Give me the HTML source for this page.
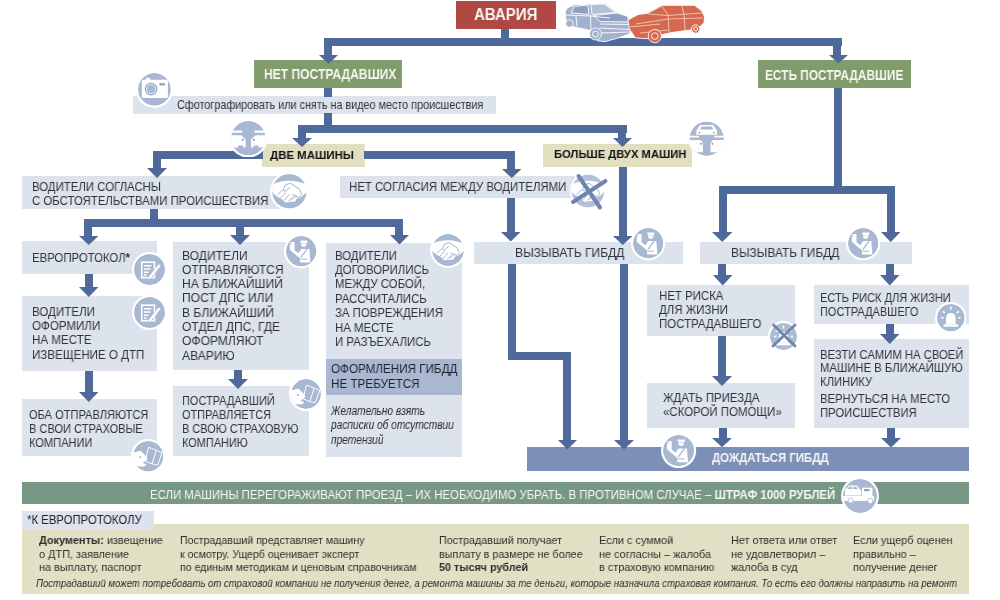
<!DOCTYPE html>
<html><head><meta charset="utf-8"><style>
html,body{margin:0;padding:0;background:#fff;}
body{width:1000px;height:600px;position:relative;overflow:hidden;font-family:"Liberation Sans",sans-serif;}
.r{position:absolute;display:block;}
.t{position:absolute;white-space:nowrap;line-height:1;transform-origin:0 0;will-change:transform;}
.t sup{font-size:0.7em;vertical-align:0;position:relative;top:-0.35em;line-height:0;}
</style></head><body>
<div class="r" style="left:456px;top:1px;width:100px;height:28px;background:#b04844;"></div>
<div class="r" style="left:254px;top:60px;width:148px;height:28px;background:#7f9c6a;"></div>
<div class="r" style="left:758px;top:60px;width:153px;height:28px;background:#7f9c6a;"></div>
<div class="r" style="left:133px;top:96px;width:363px;height:18px;background:#dde3ed;"></div>
<div class="r" style="left:262px;top:144px;width:102.5px;height:22.5px;background:#e1dfc2;"></div>
<div class="r" style="left:543px;top:144px;width:149px;height:22.5px;background:#e1dfc2;"></div>
<div class="r" style="left:22px;top:176px;width:258px;height:33px;background:#dde3ed;"></div>
<div class="r" style="left:340px;top:176px;width:235px;height:22px;background:#dde3ed;"></div>
<div class="r" style="left:22px;top:241px;width:135px;height:33px;background:#dde3ed;"></div>
<div class="r" style="left:22px;top:296px;width:135px;height:75px;background:#dde3ed;"></div>
<div class="r" style="left:22px;top:399px;width:135px;height:57px;background:#dde3ed;"></div>
<div class="r" style="left:172.5px;top:242px;width:136.5px;height:127.5px;background:#dde3ed;"></div>
<div class="r" style="left:173px;top:386px;width:135.5px;height:70px;background:#dde3ed;"></div>
<div class="r" style="left:326px;top:242.5px;width:136px;height:214.5px;background:#dde3ed;"></div>
<div class="r" style="left:326px;top:359px;width:136px;height:35.6px;background:#a9b8d0;"></div>
<div class="r" style="left:474px;top:242px;width:208.5px;height:22px;background:#dde3ed;"></div>
<div class="r" style="left:700px;top:242px;width:212px;height:22px;background:#dde3ed;"></div>
<div class="r" style="left:647px;top:285px;width:147.5px;height:51px;background:#dde3ed;"></div>
<div class="r" style="left:813.5px;top:285px;width:155.5px;height:38.6px;background:#dde3ed;"></div>
<div class="r" style="left:813.5px;top:339px;width:155.5px;height:88.6px;background:#dde3ed;"></div>
<div class="r" style="left:646.5px;top:382.5px;width:148.1px;height:45.1px;background:#dde3ed;"></div>
<div class="r" style="left:527px;top:447px;width:442px;height:23.5px;background:#7c90b7;"></div>
<div class="r" style="left:22px;top:482px;width:946.5px;height:22px;background:#789886;"></div>
<div class="r" style="left:22px;top:524px;width:946.5px;height:70px;background:#e2e0c4;"></div>
<div class="r" style="left:22px;top:511px;width:131.5px;height:18.5px;background:#dce2ee;"></div>
<div class="r" style="left:501px;top:29px;width:8px;height:10px;background:#4f6a9a;"></div>
<div class="r" style="left:324px;top:38px;width:518px;height:8px;background:#4f6a9a;"></div>
<div class="r" style="left:324px;top:45px;width:8px;height:11px;background:#4f6a9a;"></div>
<svg class="r" style="left:319px;top:55px" width="19" height="9" viewBox="0 0 19 9"><polygon points="0,0 19,0 9.5,9" fill="#4f6a9a"/></svg>
<div class="r" style="left:833px;top:45px;width:8px;height:11px;background:#4f6a9a;"></div>
<svg class="r" style="left:828.5px;top:54.5px" width="19.0" height="8.5" viewBox="0 0 19.0 8.5"><polygon points="0,0 19.0,0 9.5,8.5" fill="#4f6a9a"/></svg>
<div class="r" style="left:324px;top:88px;width:8px;height:9px;background:#4f6a9a;"></div>
<div class="r" style="left:324px;top:113px;width:8px;height:13px;background:#4f6a9a;"></div>
<div class="r" style="left:298px;top:125px;width:329px;height:8px;background:#4f6a9a;"></div>
<div class="r" style="left:298px;top:132px;width:8px;height:7px;background:#4f6a9a;"></div>
<svg class="r" style="left:292px;top:138px" width="20" height="9" viewBox="0 0 20 9"><polygon points="0,0 20,0 10.0,9" fill="#4f6a9a"/></svg>
<div class="r" style="left:618px;top:132px;width:8px;height:7px;background:#4f6a9a;"></div>
<svg class="r" style="left:613px;top:138px" width="19" height="9" viewBox="0 0 19 9"><polygon points="0,0 19,0 9.5,9" fill="#4f6a9a"/></svg>
<div class="r" style="left:153px;top:151px;width:109.5px;height:8px;background:#4f6a9a;"></div>
<div class="r" style="left:153px;top:158px;width:8px;height:11px;background:#4f6a9a;"></div>
<svg class="r" style="left:147px;top:168px" width="20" height="10" viewBox="0 0 20 10"><polygon points="0,0 20,0 10.0,10" fill="#4f6a9a"/></svg>
<div class="r" style="left:364px;top:151px;width:151px;height:8px;background:#4f6a9a;"></div>
<div class="r" style="left:507px;top:158px;width:8px;height:12px;background:#4f6a9a;"></div>
<svg class="r" style="left:501.5px;top:169px" width="19.5" height="9" viewBox="0 0 19.5 9"><polygon points="0,0 19.5,0 9.75,9" fill="#4f6a9a"/></svg>
<div class="r" style="left:150px;top:209px;width:8px;height:11px;background:#4f6a9a;"></div>
<div class="r" style="left:84px;top:219px;width:319px;height:8px;background:#4f6a9a;"></div>
<div class="r" style="left:84px;top:226px;width:8px;height:11px;background:#4f6a9a;"></div>
<svg class="r" style="left:78.5px;top:236px" width="19.5" height="9" viewBox="0 0 19.5 9"><polygon points="0,0 19.5,0 9.75,9" fill="#4f6a9a"/></svg>
<div class="r" style="left:236px;top:226px;width:8px;height:10px;background:#4f6a9a;"></div>
<svg class="r" style="left:230px;top:235px" width="20" height="10" viewBox="0 0 20 10"><polygon points="0,0 20,0 10.0,10" fill="#4f6a9a"/></svg>
<div class="r" style="left:395px;top:226px;width:8px;height:10px;background:#4f6a9a;"></div>
<svg class="r" style="left:389.5px;top:235px" width="19.0" height="9.5" viewBox="0 0 19.0 9.5"><polygon points="0,0 19.0,0 9.5,9.5" fill="#4f6a9a"/></svg>
<div class="r" style="left:85px;top:274px;width:8px;height:14px;background:#4f6a9a;"></div>
<svg class="r" style="left:79px;top:287px" width="19.5" height="10" viewBox="0 0 19.5 10"><polygon points="0,0 19.5,0 9.75,10" fill="#4f6a9a"/></svg>
<div class="r" style="left:85px;top:371px;width:8px;height:22px;background:#4f6a9a;"></div>
<svg class="r" style="left:79px;top:392px" width="19.5" height="10" viewBox="0 0 19.5 10"><polygon points="0,0 19.5,0 9.75,10" fill="#4f6a9a"/></svg>
<div class="r" style="left:234px;top:369.5px;width:8px;height:10.5px;background:#4f6a9a;"></div>
<svg class="r" style="left:227.5px;top:379px" width="20.0" height="10" viewBox="0 0 20.0 10"><polygon points="0,0 20.0,0 10.0,10" fill="#4f6a9a"/></svg>
<div class="r" style="left:507px;top:198px;width:8px;height:35px;background:#4f6a9a;"></div>
<svg class="r" style="left:501px;top:232px" width="19.5" height="9.5" viewBox="0 0 19.5 9.5"><polygon points="0,0 19.5,0 9.75,9.5" fill="#4f6a9a"/></svg>
<div class="r" style="left:619px;top:166.5px;width:8px;height:70.5px;background:#4f6a9a;"></div>
<svg class="r" style="left:613px;top:236px" width="19.5" height="9" viewBox="0 0 19.5 9"><polygon points="0,0 19.5,0 9.75,9" fill="#4f6a9a"/></svg>
<div class="r" style="left:508px;top:264px;width:8px;height:96px;background:#4f6a9a;"></div>
<div class="r" style="left:508px;top:351.5px;width:63px;height:8.0px;background:#4f6a9a;"></div>
<div class="r" style="left:563px;top:351.5px;width:8px;height:89.5px;background:#4f6a9a;"></div>
<svg class="r" style="left:558px;top:440px" width="19" height="9.5" viewBox="0 0 19 9.5"><polygon points="0,0 19,0 9.5,9.5" fill="#4f6a9a"/></svg>
<div class="r" style="left:619.5px;top:264px;width:8.0px;height:177px;background:#4f6a9a;"></div>
<svg class="r" style="left:613.5px;top:440px" width="20.0" height="9.5" viewBox="0 0 20.0 9.5"><polygon points="0,0 20.0,0 10.0,9.5" fill="#4f6a9a"/></svg>
<div class="r" style="left:834px;top:88px;width:8px;height:106px;background:#4f6a9a;"></div>
<div class="r" style="left:718.5px;top:186px;width:176.5px;height:8px;background:#4f6a9a;"></div>
<div class="r" style="left:718.5px;top:193px;width:8.0px;height:40px;background:#4f6a9a;"></div>
<svg class="r" style="left:712px;top:232px" width="20.5" height="10" viewBox="0 0 20.5 10"><polygon points="0,0 20.5,0 10.25,10" fill="#4f6a9a"/></svg>
<div class="r" style="left:887px;top:193px;width:8px;height:40px;background:#4f6a9a;"></div>
<svg class="r" style="left:881px;top:232px" width="19.5" height="10" viewBox="0 0 19.5 10"><polygon points="0,0 19.5,0 9.75,10" fill="#4f6a9a"/></svg>
<div class="r" style="left:718px;top:264px;width:8px;height:12px;background:#4f6a9a;"></div>
<svg class="r" style="left:712.5px;top:275px" width="19.5" height="10.5" viewBox="0 0 19.5 10.5"><polygon points="0,0 19.5,0 9.75,10.5" fill="#4f6a9a"/></svg>
<div class="r" style="left:886px;top:264px;width:8px;height:12px;background:#4f6a9a;"></div>
<svg class="r" style="left:880px;top:275px" width="19.5" height="10.5" viewBox="0 0 19.5 10.5"><polygon points="0,0 19.5,0 9.75,10.5" fill="#4f6a9a"/></svg>
<div class="r" style="left:718px;top:336px;width:8px;height:41px;background:#4f6a9a;"></div>
<svg class="r" style="left:712px;top:376px" width="20" height="10" viewBox="0 0 20 10"><polygon points="0,0 20,0 10.0,10" fill="#4f6a9a"/></svg>
<div class="r" style="left:718.5px;top:427.6px;width:8.0px;height:11.4px;background:#4f6a9a;"></div>
<svg class="r" style="left:712px;top:437.8px" width="20" height="9.199999999999989" viewBox="0 0 20 9.199999999999989"><polygon points="0,0 20,0 10.0,9.199999999999989" fill="#4f6a9a"/></svg>
<div class="r" style="left:886px;top:323.6px;width:8px;height:11.4px;background:#4f6a9a;"></div>
<svg class="r" style="left:880px;top:334px" width="19.5" height="10" viewBox="0 0 19.5 10"><polygon points="0,0 19.5,0 9.75,10" fill="#4f6a9a"/></svg>
<div class="r" style="left:887px;top:427.6px;width:8px;height:11.4px;background:#4f6a9a;"></div>
<svg class="r" style="left:880.5px;top:438px" width="20.0" height="9.5" viewBox="0 0 20.0 9.5"><polygon points="0,0 20.0,0 10.0,9.5" fill="#4f6a9a"/></svg>
<svg class="r" style="left:135.8px;top:71.3px" width="36.8" height="36.8" viewBox="-19.073170731707318 -19.073170731707318 38.146341463414636 38.146341463414636"><defs><clipPath id="c154_89"><circle r="17"/></clipPath></defs><circle cx="0" cy="0" r="19.073170731707318" fill="#fff"/><g clip-path="url(#c154_89)"><circle cx="0" cy="0" r="17" fill="#a8b8d2"/><rect x="-8.7" y="-12" width="4.2" height="3" fill="#fff"/><rect x="-13" y="-10" width="27" height="19" rx="1.5" fill="#fff"/><circle cx="-3.4" cy="-0.4" r="6" fill="none" stroke="#8e9fbd" stroke-width="1.2"/><circle cx="-3.4" cy="-0.4" r="4.6" fill="#a8b8d2"/><rect x="5.3" y="-6.5" width="5.7" height="2.4" fill="#8e9fbd"/></g></svg>
<svg class="r" style="left:229.2px;top:118.5px" width="38.6" height="38.6" viewBox="-18.965317919075147 -18.965317919075147 37.930635838150295 37.930635838150295"><defs><clipPath id="c248_137"><circle r="17"/></clipPath></defs><circle cx="0" cy="0" r="18.965317919075147" fill="#fff"/><g clip-path="url(#c248_137)"><circle cx="0" cy="0" r="17" fill="#a8b8d2"/><path d="M-20,-7.6 H-6 V-5.4 H-20z M20,-7.6 H6 V-5.4 H20z" fill="#fff"/><path d="M-20,-3 H-7 L-4,0 L-2.6,1 V9 H-5 V7 H-10 V9 H-20z" fill="#fff"/><path d="M20,-3 H7 L4,0 L2.6,1 V9 H5 V7 H10 V9 H20z" fill="#fff"/><circle cx="-5.5" cy="1.5" r="1.1" fill="#8e9fbd"/><circle cx="5.5" cy="1.5" r="1.1" fill="#8e9fbd"/></g></svg>
<svg class="r" style="left:270.2px;top:171.9px" width="38.6" height="38.6" viewBox="-18.965317919075147 -18.965317919075147 37.930635838150295 37.930635838150295"><defs><clipPath id="c289_191"><circle r="17"/></clipPath></defs><circle cx="0" cy="0" r="18.965317919075147" fill="#fff"/><g clip-path="url(#c289_191)"><circle cx="0" cy="0" r="17" fill="#a8b8d2"/><path d="M-20,-5.1 A40,40 0 0 1 20,-5.1 L20,-3.8 A22.3,22.3 0 0 1 -20,-3.8 Z" fill="#fff"/><path d="M-9,6 L-2,0 L8,2 L6,10 L-4,11z" fill="#fff"/><path d="M-4,-6 L1,-8 L10,-2 L12,3 L9,6 L3,3 M-4,-6 L-6,-1 L-4,0 L1,-4 M-12,4 L-7,-1 M-9,7 L-3,1 M-5,9 L0,3 M-1,10 L4,5 M2,9 L7,4" fill="none" stroke="#8e9fbd" stroke-width="0.8"/></g></svg>
<svg class="r" style="left:570.0px;top:173.0px" width="36.0" height="36.0" viewBox="-18.545454545454547 -18.545454545454547 37.09090909090909 37.09090909090909"><defs><clipPath id="c588_191"><circle r="17"/></clipPath></defs><circle cx="0" cy="0" r="18.545454545454547" fill="#fff"/><g clip-path="url(#c588_191)"><circle cx="0" cy="0" r="17" fill="#b3c0d7"/><path d="M-20,-5.1 A40,40 0 0 1 20,-5.1 L20,-3.8 A22.3,22.3 0 0 1 -20,-3.8 Z" fill="#fff"/><path d="M-9,6 L-2,0 L8,2 L6,10 L-4,11z" fill="#fff"/><path d="M-4,-6 L1,-8 L10,-2 L12,3 L9,6 L3,3 M-4,-6 L-6,-1 L-4,0 L1,-4 M-12,4 L-7,-1 M-9,7 L-3,1 M-5,9 L0,3 M-1,10 L4,5 M2,9 L7,4" fill="none" stroke="#8e9fbd" stroke-width="0.8"/></g></svg>
<svg class="r" style="left:568.5px;top:172px" width="40.5" height="39.5" viewBox="568.5 172 40.5 39.5"><path d="M578,176 L599.5,207.5 M605,181 L572.5,202" stroke="#6f85ae" stroke-width="4" stroke-linecap="round"/></svg>
<svg class="r" style="left:688.3px;top:119.8px" width="37.4" height="37.4" viewBox="-18.482558139534884 -18.482558139534884 36.96511627906977 36.96511627906977"><defs><clipPath id="c707_138"><circle r="17"/></clipPath></defs><circle cx="0" cy="0" r="18.482558139534884" fill="#fff"/><g clip-path="url(#c707_138)"><circle cx="0" cy="0" r="17" fill="#a8b8d2"/><path d="M-6.5,-13.6 H6.5 L10.2,-8 V-4 H-10.2 V-8 Z" fill="#fff"/><path d="M-5,-12 H5 L6.5,-9 H-6.5 Z" fill="#a8b8d2"/><path d="M-20,-3 H-7.5 V-1.2 H-20z M20,-3 H7.5 V-1.2 H20z" fill="#fff"/><path d="M-20,1.2 H-6 L-3.8,4 V13.5 H-20 Z M20,1.2 H6 L3.8,4 V13.5 H20 Z" fill="#fff"/><circle cx="-7.2" cy="-5.8" r="0.8" fill="#c66"/><circle cx="7.2" cy="-5.8" r="0.8" fill="#c66"/><circle cx="-5.6" cy="5" r="0.9" fill="#c77"/><circle cx="5.6" cy="5" r="0.9" fill="#c77"/></g></svg>
<svg class="r" style="left:131.8px;top:251.7px" width="35.0" height="35.0" viewBox="-19.193548387096776 -19.193548387096776 38.38709677419355 38.38709677419355"><defs><clipPath id="c149_269"><circle r="17"/></clipPath></defs><circle cx="0" cy="0" r="19.193548387096776" fill="#fff"/><g clip-path="url(#c149_269)"><circle cx="0" cy="0" r="17" fill="#a8b8d2"/><rect x="-8.5" y="-8" width="14" height="17" fill="none" stroke="#fff" stroke-width="1.8"/><path d="M-6,-4 h8 M-6,-0.5 h7 M-6,3 h5 M-6,6 h3" stroke="#fff" stroke-width="1.6"/><path d="M-1,8 l11,-14 l2.5,2 l-11,14 l-3,1z" fill="#fff" stroke="#a8b8d2" stroke-width="0.6"/></g></svg>
<svg class="r" style="left:132.0px;top:295.0px" width="35.0" height="35.0" viewBox="-19.193548387096776 -19.193548387096776 38.38709677419355 38.38709677419355"><defs><clipPath id="c149_312"><circle r="17"/></clipPath></defs><circle cx="0" cy="0" r="19.193548387096776" fill="#fff"/><g clip-path="url(#c149_312)"><circle cx="0" cy="0" r="17" fill="#a8b8d2"/><rect x="-8.5" y="-8" width="14" height="17" fill="none" stroke="#fff" stroke-width="1.8"/><path d="M-6,-4 h8 M-6,-0.5 h7 M-6,3 h5 M-6,6 h3" stroke="#fff" stroke-width="1.6"/><path d="M-1,8 l11,-14 l2.5,2 l-11,14 l-3,1z" fill="#fff" stroke="#a8b8d2" stroke-width="0.6"/></g></svg>
<svg class="r" style="left:130.8px;top:438.5px" width="34.4" height="34.4" viewBox="-19.236842105263158 -19.236842105263158 38.473684210526315 38.473684210526315"><defs><clipPath id="c148_455"><circle r="17"/></clipPath></defs><circle cx="0" cy="0" r="19.236842105263158" fill="#fff"/><g clip-path="url(#c148_455)"><circle cx="0" cy="0" r="17" fill="#a8b8d2"/><path d="M0.6,-10 L9.3,-6.6 L4.3,8.5 L-3.6,5.4z M9.3,-6.6 L15.5,-4 L10.5,10 L4.3,8.5" fill="none" stroke="#fff" stroke-width="1.1" stroke-linejoin="round"/><path d="M-20,-4 L-16.8,-4 L-8.5,-6.2 L-1.7,0.6 L-0.9,3.6 L-6.2,7.4 L-1.7,9.6 L-5.4,11.9 L-11.6,11.2 L-20,11.2z" fill="#fff"/><circle cx="-9" cy="1" r="1" fill="#8e9fbd"/></g></svg>
<svg class="r" style="left:283.8px;top:234.3px" width="34.4" height="34.4" viewBox="-19.236842105263158 -19.236842105263158 38.473684210526315 38.473684210526315"><defs><clipPath id="c301_251"><circle r="17"/></clipPath></defs><circle cx="0" cy="0" r="19.236842105263158" fill="#fff"/><g clip-path="url(#c301_251)"><circle cx="0" cy="0" r="17" fill="#a8b8d2"/><path d="M-1,-12 H7 L6.4,-8.7 H-0.4z" fill="#fff"/><path d="M0,-8.2 H5.6 V-6 Q2.8,-3.6 0,-6z" fill="#fff"/><rect x="-12.7" y="-10.3" width="5.2" height="9" fill="#fff"/><path d="M-11.5,-10 v3" stroke="#8e9fbd" stroke-width="0.7"/><path d="M-12.7,-1.5 L-8,-1.5 L-3.3,2.2 L0,-2.4 H9.1 L10.3,12.7 H-1.2 V8 L-4,6 Z" fill="#fff"/><path d="M6.5,-2.4 L-0.5,7.2" stroke="#a8b8d2" stroke-width="1.4"/><path d="M-0.5,9 H6.5" stroke="#8e9fbd" stroke-width="0.8"/></g></svg>
<svg class="r" style="left:288.5px;top:376.8px" width="34.0" height="34.0" viewBox="-19.266666666666666 -19.266666666666666 38.53333333333333 38.53333333333333"><defs><clipPath id="c305_393"><circle r="17"/></clipPath></defs><circle cx="0" cy="0" r="19.266666666666666" fill="#fff"/><g clip-path="url(#c305_393)"><circle cx="0" cy="0" r="17" fill="#a8b8d2"/><path d="M0.6,-10 L9.3,-6.6 L4.3,8.5 L-3.6,5.4z M9.3,-6.6 L15.5,-4 L10.5,10 L4.3,8.5" fill="none" stroke="#fff" stroke-width="1.1" stroke-linejoin="round"/><path d="M-20,-4 L-16.8,-4 L-8.5,-6.2 L-1.7,0.6 L-0.9,3.6 L-6.2,7.4 L-1.7,9.6 L-5.4,11.9 L-11.6,11.2 L-20,11.2z" fill="#fff"/><circle cx="-9" cy="1" r="1" fill="#8e9fbd"/></g></svg>
<svg class="r" style="left:429.5px;top:232.0px" width="36.0" height="36.0" viewBox="-19.125 -19.125 38.25 38.25"><defs><clipPath id="c447_250"><circle r="17"/></clipPath></defs><circle cx="0" cy="0" r="19.125" fill="#fff"/><g clip-path="url(#c447_250)"><circle cx="0" cy="0" r="17" fill="#a8b8d2"/><path d="M-20,-5.1 A40,40 0 0 1 20,-5.1 L20,-3.8 A22.3,22.3 0 0 1 -20,-3.8 Z" fill="#fff"/><path d="M-9,6 L-2,0 L8,2 L6,10 L-4,11z" fill="#fff"/><path d="M-4,-6 L1,-8 L10,-2 L12,3 L9,6 L3,3 M-4,-6 L-6,-1 L-4,0 L1,-4 M-12,4 L-7,-1 M-9,7 L-3,1 M-5,9 L0,3 M-1,10 L4,5 M2,9 L7,4" fill="none" stroke="#8e9fbd" stroke-width="0.8"/></g></svg>
<svg class="r" style="left:631.0px;top:226.3px" width="34.4" height="34.4" viewBox="-19.236842105263158 -19.236842105263158 38.473684210526315 38.473684210526315"><defs><clipPath id="c648_243"><circle r="17"/></clipPath></defs><circle cx="0" cy="0" r="19.236842105263158" fill="#fff"/><g clip-path="url(#c648_243)"><circle cx="0" cy="0" r="17" fill="#a8b8d2"/><path d="M-1,-12 H7 L6.4,-8.7 H-0.4z" fill="#fff"/><path d="M0,-8.2 H5.6 V-6 Q2.8,-3.6 0,-6z" fill="#fff"/><rect x="-12.7" y="-10.3" width="5.2" height="9" fill="#fff"/><path d="M-11.5,-10 v3" stroke="#8e9fbd" stroke-width="0.7"/><path d="M-12.7,-1.5 L-8,-1.5 L-3.3,2.2 L0,-2.4 H9.1 L10.3,12.7 H-1.2 V8 L-4,6 Z" fill="#fff"/><path d="M6.5,-2.4 L-0.5,7.2" stroke="#a8b8d2" stroke-width="1.4"/><path d="M-0.5,9 H6.5" stroke="#8e9fbd" stroke-width="0.8"/></g></svg>
<svg class="r" style="left:845.8px;top:226.4px" width="34.4" height="34.4" viewBox="-19.236842105263158 -19.236842105263158 38.473684210526315 38.473684210526315"><defs><clipPath id="c863_243"><circle r="17"/></clipPath></defs><circle cx="0" cy="0" r="19.236842105263158" fill="#fff"/><g clip-path="url(#c863_243)"><circle cx="0" cy="0" r="17" fill="#a8b8d2"/><path d="M-1,-12 H7 L6.4,-8.7 H-0.4z" fill="#fff"/><path d="M0,-8.2 H5.6 V-6 Q2.8,-3.6 0,-6z" fill="#fff"/><rect x="-12.7" y="-10.3" width="5.2" height="9" fill="#fff"/><path d="M-11.5,-10 v3" stroke="#8e9fbd" stroke-width="0.7"/><path d="M-12.7,-1.5 L-8,-1.5 L-3.3,2.2 L0,-2.4 H9.1 L10.3,12.7 H-1.2 V8 L-4,6 Z" fill="#fff"/><path d="M6.5,-2.4 L-0.5,7.2" stroke="#a8b8d2" stroke-width="1.4"/><path d="M-0.5,9 H6.5" stroke="#8e9fbd" stroke-width="0.8"/></g></svg>
<svg class="r" style="left:768.0px;top:320.5px" width="31.0" height="31.0" viewBox="-19.51851851851852 -19.51851851851852 39.03703703703704 39.03703703703704"><defs><clipPath id="c783_336"><circle r="17"/></clipPath></defs><circle cx="0" cy="0" r="19.51851851851852" fill="#fff"/><g clip-path="url(#c783_336)"><circle cx="0" cy="0" r="17" fill="#adbbd4"/><path d="M-6,8 v-7 q0,-7 6,-7 q6,0 6,7 v7z" fill="#fff"/><rect x="-9" y="8" width="18" height="3" fill="#fff"/><path d="M0,-14 v4 M-10,-8 l3,2 M10,-8 l-3,2 M-12,0 h3 M12,0 h-3" stroke="#fff" stroke-width="1.8"/></g></svg>
<svg class="r" style="left:769px;top:321px" width="30" height="29" viewBox="769 321 30 29"><path d="M773.5,325 L795,346 M795,325 L773,346" stroke="#6f85ae" stroke-width="2.8" stroke-linecap="round"/></svg>
<svg class="r" style="left:934.7px;top:302.2px" width="31.6" height="31.6" viewBox="-19.46376811594203 -19.46376811594203 38.92753623188406 38.92753623188406"><defs><clipPath id="c950_318"><circle r="17"/></clipPath></defs><circle cx="0" cy="0" r="19.46376811594203" fill="#fff"/><g clip-path="url(#c950_318)"><circle cx="0" cy="0" r="17" fill="#a8b8d2"/><path d="M-6,8 v-7 q0,-7 6,-7 q6,0 6,7 v7z" fill="#fff"/><rect x="-9" y="8" width="18" height="3" fill="#fff"/><path d="M0,-14 v4 M-10,-8 l3,2 M10,-8 l-3,2 M-12,0 h3 M12,0 h-3" stroke="#fff" stroke-width="1.8"/></g></svg>
<svg class="r" style="left:661.4px;top:432.9px" width="35.2" height="35.2" viewBox="-19.179487179487182 -19.179487179487182 38.358974358974365 38.358974358974365"><defs><clipPath id="c679_450"><circle r="17"/></clipPath></defs><circle cx="0" cy="0" r="19.179487179487182" fill="#fff"/><g clip-path="url(#c679_450)"><circle cx="0" cy="0" r="17" fill="#a8b8d2"/><path d="M-1,-12 H7 L6.4,-8.7 H-0.4z" fill="#fff"/><path d="M0,-8.2 H5.6 V-6 Q2.8,-3.6 0,-6z" fill="#fff"/><rect x="-12.7" y="-10.3" width="5.2" height="9" fill="#fff"/><path d="M-11.5,-10 v3" stroke="#8e9fbd" stroke-width="0.7"/><path d="M-12.7,-1.5 L-8,-1.5 L-3.3,2.2 L0,-2.4 H9.1 L10.3,12.7 H-1.2 V8 L-4,6 Z" fill="#fff"/><path d="M6.5,-2.4 L-0.5,7.2" stroke="#a8b8d2" stroke-width="1.4"/><path d="M-0.5,9 H6.5" stroke="#8e9fbd" stroke-width="0.8"/></g></svg>
<svg class="r" style="left:841.0px;top:476.6px" width="38.0" height="38.0" viewBox="-19.0 -19.0 38.0 38.0"><defs><clipPath id="c860_495"><circle r="17"/></clipPath></defs><circle cx="0" cy="0" r="19.0" fill="#fff"/><g clip-path="url(#c860_495)"><circle cx="0" cy="0" r="17" fill="#a8b8d2"/><path d="M-15,-0.5 V-6 Q-15,-7.5 -13,-8 L-11,-10.5 H-3 L0,-6.5 Q1.5,-6 1.5,-4 V-0.5z" fill="#fff"/><path d="M-12.5,-7 L-11,-9.3 H-8 V-7z M-6.8,-7 V-9.3 H-3.6 L-2,-7z" fill="#a8b8d2"/><rect x="2" y="-8.3" width="10.5" height="8.5" fill="#fff"/><rect x="4" y="-6.9" width="5.6" height="2.1" fill="#8e9fbd"/><rect x="-17" y="0" width="31" height="5" fill="#fff"/><circle cx="-9.3" cy="4.5" r="2.6" fill="#fff" stroke="#a8b8d2" stroke-width="0.8"/><circle cx="10.3" cy="5" r="2.6" fill="#fff" stroke="#a8b8d2" stroke-width="0.8"/></g></svg>
<div class="t" style="left:474.3px;top:6.96px;font-size:16px;color:#f7f7f2;font-weight:bold;transform:scaleX(0.9387);">АВАРИЯ</div>
<div class="t" style="left:264.3px;top:67.23px;font-size:14.3px;color:#f7f7f2;font-weight:bold;transform:scaleX(0.8441);">НЕТ ПОСТРАДАВШИХ</div>
<div class="t" style="left:764.9px;top:68.28px;font-size:14px;color:#f7f7f2;font-weight:bold;transform:scaleX(0.8477);">ЕСТЬ ПОСТРАДАВШИЕ</div>
<div class="t" style="left:177.3px;top:99.0px;font-size:12.6px;color:#333;transform:scaleX(0.8584);">Сфотографировать или снять на видео место происшествия</div>
<div class="t" style="left:270.3px;top:149.63px;font-size:11.8px;color:#111;font-weight:bold;transform:scaleX(0.9673);">ДВЕ МАШИНЫ</div>
<div class="t" style="left:553.6999999999999px;top:149.23px;font-size:11.8px;color:#111;font-weight:bold;transform:scaleX(0.9504);">БОЛЬШЕ ДВУХ МАШИН</div>
<div class="t" style="left:32.3px;top:180.55px;font-size:12.3px;color:#30333a;transform:scaleX(0.9272);">ВОДИТЕЛИ СОГЛАСНЫ</div>
<div class="t" style="left:32.3px;top:194.55px;font-size:12.3px;color:#30333a;transform:scaleX(0.9272);">С ОБСТОЯТЕЛЬСТВАМИ ПРОИСШЕСТВИЯ</div>
<div class="t" style="left:349.3px;top:180.95px;font-size:12.3px;color:#30333a;transform:scaleX(0.9301);">НЕТ СОГЛАСИЯ МЕЖДУ ВОДИТЕЛЯМИ</div>
<div class="t" style="left:31.7px;top:252.15px;font-size:12.3px;color:#30333a;transform:scaleX(0.9237);">ЕВРОПРОТОКОЛ<b>*</b></div>
<div class="t" style="left:32.3px;top:305.55px;font-size:12.3px;color:#30333a;transform:scaleX(0.9412);">ВОДИТЕЛИ</div>
<div class="t" style="left:32.3px;top:320.0px;font-size:12.3px;color:#30333a;transform:scaleX(0.9412);">ОФОРМИЛИ</div>
<div class="t" style="left:32.3px;top:334.45px;font-size:12.3px;color:#30333a;transform:scaleX(0.9412);">НА МЕСТЕ</div>
<div class="t" style="left:32.3px;top:348.9px;font-size:12.3px;color:#30333a;transform:scaleX(0.9412);">ИЗВЕЩЕНИЕ О ДТП</div>
<div class="t" style="left:29.3px;top:408.55px;font-size:12.3px;color:#30333a;transform:scaleX(0.9009);">ОБА ОТПРАВЛЯЮТСЯ</div>
<div class="t" style="left:29.3px;top:422.55px;font-size:12.3px;color:#30333a;transform:scaleX(0.9009);">В СВОИ СТРАХОВЫЕ</div>
<div class="t" style="left:29.3px;top:436.55px;font-size:12.3px;color:#30333a;transform:scaleX(0.9009);">КОМПАНИИ</div>
<div class="t" style="left:182.3px;top:249.55px;font-size:12.3px;color:#30333a;transform:scaleX(0.9811);">ВОДИТЕЛИ</div>
<div class="t" style="left:182.3px;top:263.85px;font-size:12.3px;color:#30333a;transform:scaleX(0.9811);">ОТПРАВЛЯЮТСЯ</div>
<div class="t" style="left:182.3px;top:278.15px;font-size:12.3px;color:#30333a;transform:scaleX(0.9811);">НА БЛИЖАЙШИЙ</div>
<div class="t" style="left:182.3px;top:292.45px;font-size:12.3px;color:#30333a;transform:scaleX(0.9811);">ПОСТ ДПС ИЛИ</div>
<div class="t" style="left:182.3px;top:306.75px;font-size:12.3px;color:#30333a;transform:scaleX(0.9811);">В БЛИЖАЙШИЙ</div>
<div class="t" style="left:182.3px;top:321.05px;font-size:12.3px;color:#30333a;transform:scaleX(0.9811);">ОТДЕЛ ДПС, ГДЕ</div>
<div class="t" style="left:182.3px;top:335.35px;font-size:12.3px;color:#30333a;transform:scaleX(0.9811);">ОФОРМЛЯЮТ</div>
<div class="t" style="left:182.3px;top:349.65px;font-size:12.3px;color:#30333a;transform:scaleX(0.9811);">АВАРИЮ</div>
<div class="t" style="left:182.3px;top:394.55px;font-size:12.3px;color:#30333a;transform:scaleX(0.8907);">ПОСТРАДАВШИЙ</div>
<div class="t" style="left:182.3px;top:408.55px;font-size:12.3px;color:#30333a;transform:scaleX(0.8907);">ОТПРАВЛЯЕТСЯ</div>
<div class="t" style="left:182.3px;top:422.55px;font-size:12.3px;color:#30333a;transform:scaleX(0.8907);">В СВОЮ СТРАХОВУЮ</div>
<div class="t" style="left:182.3px;top:436.55px;font-size:12.3px;color:#30333a;transform:scaleX(0.8907);">КОМПАНИЮ</div>
<div class="t" style="left:335.3px;top:249.55px;font-size:12.3px;color:#30333a;transform:scaleX(0.9256);">ВОДИТЕЛИ</div>
<div class="t" style="left:335.3px;top:263.97px;font-size:12.3px;color:#30333a;transform:scaleX(0.9256);">ДОГОВОРИЛИСЬ</div>
<div class="t" style="left:335.3px;top:278.39px;font-size:12.3px;color:#30333a;transform:scaleX(0.9256);">МЕЖДУ СОБОЙ,</div>
<div class="t" style="left:335.3px;top:292.81px;font-size:12.3px;color:#30333a;transform:scaleX(0.9256);">РАССЧИТАЛИСЬ</div>
<div class="t" style="left:335.3px;top:307.23px;font-size:12.3px;color:#30333a;transform:scaleX(0.9256);">ЗА ПОВРЕЖДЕНИЯ</div>
<div class="t" style="left:335.3px;top:321.65px;font-size:12.3px;color:#30333a;transform:scaleX(0.9256);">НА МЕСТЕ</div>
<div class="t" style="left:335.3px;top:336.07px;font-size:12.3px;color:#30333a;transform:scaleX(0.9256);">И РАЗЪЕХАЛИСЬ</div>
<div class="t" style="left:331.3px;top:362.55px;font-size:12.3px;color:#1e2230;transform:scaleX(0.948);">ОФОРМЛЕНИЯ ГИБДД</div>
<div class="t" style="left:331.3px;top:377.55px;font-size:12.3px;color:#1e2230;transform:scaleX(0.948);">НЕ ТРЕБУЕТСЯ</div>
<div class="t" style="left:331.3px;top:404.55px;font-size:12.3px;color:#2b2b2b;font-style:italic;transform:scaleX(0.8267);">Желательно взять</div>
<div class="t" style="left:331.3px;top:419.15px;font-size:12.3px;color:#2b2b2b;font-style:italic;transform:scaleX(0.8267);">расписки об отсутствии</div>
<div class="t" style="left:331.3px;top:433.75px;font-size:12.3px;color:#2b2b2b;font-style:italic;transform:scaleX(0.8267);">претензий</div>
<div class="t" style="left:515.3px;top:246.55px;font-size:12.3px;color:#30333a;transform:scaleX(0.9795);">ВЫЗЫВАТЬ ГИБДД</div>
<div class="t" style="left:730.6999999999999px;top:247.15px;font-size:12.3px;color:#30333a;transform:scaleX(0.9706);">ВЫЗЫВАТЬ ГИБДД</div>
<div class="t" style="left:659.3px;top:290.15px;font-size:12.3px;color:#30333a;transform:scaleX(0.9297);">НЕТ РИСКА</div>
<div class="t" style="left:659.3px;top:304.15px;font-size:12.3px;color:#30333a;transform:scaleX(0.9297);">ДЛЯ ЖИЗНИ</div>
<div class="t" style="left:659.3px;top:318.15px;font-size:12.3px;color:#30333a;transform:scaleX(0.9297);">ПОСТРАДАВШЕГО</div>
<div class="t" style="left:820.3px;top:291.55px;font-size:12.3px;color:#30333a;transform:scaleX(0.8944);">ЕСТЬ РИСК ДЛЯ ЖИЗНИ</div>
<div class="t" style="left:820.3px;top:305.55px;font-size:12.3px;color:#30333a;transform:scaleX(0.8944);">ПОСТРАДАВШЕГО</div>
<div class="t" style="left:820.3px;top:348.55px;font-size:12.3px;color:#30333a;transform:scaleX(0.9172);">ВЕЗТИ САМИМ НА СВОЕЙ</div>
<div class="t" style="left:820.3px;top:362.25px;font-size:12.3px;color:#30333a;transform:scaleX(0.9172);">МАШИНЕ В БЛИЖАЙШУЮ</div>
<div class="t" style="left:820.3px;top:376.05px;font-size:12.3px;color:#30333a;transform:scaleX(0.9172);">КЛИНИКУ</div>
<div class="t" style="left:820.3px;top:392.55px;font-size:12.3px;color:#30333a;transform:scaleX(0.9172);">ВЕРНУТЬСЯ НА МЕСТО</div>
<div class="t" style="left:820.3px;top:406.55px;font-size:12.3px;color:#30333a;transform:scaleX(0.9172);">ПРОИСШЕСТВИЯ</div>
<div class="t" style="left:663.3px;top:391.55px;font-size:12.3px;color:#30333a;transform:scaleX(0.9309);">ЖДАТЬ ПРИЕЗДА</div>
<div class="t" style="left:663.3px;top:405.55px;font-size:12.3px;color:#30333a;transform:scaleX(0.9309);">«СКОРОЙ ПОМОЩИ»</div>
<div class="t" style="left:712.3px;top:452.25px;font-size:12.3px;color:#f7f7f2;font-weight:bold;transform:scaleX(0.9261);">ДОЖДАТЬСЯ ГИБДД</div>
<div class="t" style="left:149.9px;top:489.2px;font-size:12px;color:#f7f7f2;transform:scaleX(0.9508);">ЕСЛИ МАШИНЫ ПЕРЕГОРАЖИВАЮТ ПРОЕЗД – ИХ НЕОБХОДИМО УБРАТЬ. В ПРОТИВНОМ СЛУЧАЕ – <b>ШТРАФ 1000 РУБЛЕЙ</b></div>
<div class="t" style="left:27.3px;top:514.1px;font-size:12.6px;color:#222;transform:scaleX(0.9002);">*К ЕВРОПРОТОКОЛУ</div>
<div class="t" style="left:39.3px;top:535.35px;font-size:11.4px;color:#2e2e2e;transform:scaleX(0.9566);"><b>Документы:</b> извещение</div>
<div class="t" style="left:39.3px;top:548.7px;font-size:11.4px;color:#2e2e2e;transform:scaleX(0.9566);">о ДТП, заявление</div>
<div class="t" style="left:39.3px;top:562.05px;font-size:11.4px;color:#2e2e2e;transform:scaleX(0.9566);">на выплату, паспорт</div>
<div class="t" style="left:180.3px;top:535.35px;font-size:11.4px;color:#2e2e2e;transform:scaleX(0.9263);">Пострадавший представляет машину</div>
<div class="t" style="left:180.3px;top:548.7px;font-size:11.4px;color:#2e2e2e;transform:scaleX(0.9263);">к осмотру. Ущерб оценивает эксперт</div>
<div class="t" style="left:180.3px;top:562.05px;font-size:11.4px;color:#2e2e2e;transform:scaleX(0.9263);">по единым методикам и ценовым справочникам</div>
<div class="t" style="left:439.3px;top:535.35px;font-size:11.4px;color:#2e2e2e;transform:scaleX(0.945);">Пострадавший получает</div>
<div class="t" style="left:439.3px;top:548.7px;font-size:11.4px;color:#2e2e2e;transform:scaleX(0.945);">выплату в размере не более</div>
<div class="t" style="left:439.3px;top:562.05px;font-size:11.4px;color:#2e2e2e;transform:scaleX(0.945);"><b>50 тысяч рублей</b></div>
<div class="t" style="left:598.8px;top:535.35px;font-size:11.4px;color:#2e2e2e;transform:scaleX(0.9539);">Если с суммой</div>
<div class="t" style="left:598.8px;top:548.7px;font-size:11.4px;color:#2e2e2e;transform:scaleX(0.9539);">не согласны – жалоба</div>
<div class="t" style="left:598.8px;top:562.05px;font-size:11.4px;color:#2e2e2e;transform:scaleX(0.9539);">в страховую компанию</div>
<div class="t" style="left:730.8px;top:535.35px;font-size:11.4px;color:#2e2e2e;transform:scaleX(0.9554);">Нет ответа или ответ</div>
<div class="t" style="left:730.8px;top:548.7px;font-size:11.4px;color:#2e2e2e;transform:scaleX(0.9554);">не удовлетворил –</div>
<div class="t" style="left:730.8px;top:562.05px;font-size:11.4px;color:#2e2e2e;transform:scaleX(0.9554);">жалоба в суд</div>
<div class="t" style="left:852.9px;top:535.35px;font-size:11.4px;color:#2e2e2e;transform:scaleX(0.9532);">Если ущерб оценен</div>
<div class="t" style="left:852.9px;top:548.7px;font-size:11.4px;color:#2e2e2e;transform:scaleX(0.9532);">правильно –</div>
<div class="t" style="left:852.9px;top:562.05px;font-size:11.4px;color:#2e2e2e;transform:scaleX(0.9532);">получение денег</div>
<div class="t" style="left:36.3px;top:578.35px;font-size:11.4px;color:#2e2e2e;font-style:italic;transform:scaleX(0.8398);">Пострадавший может потребовать от страховой компании не получения денег, а ремонта машины за те деньги, которые назначила страховая компания. То есть его должны направить на ремонт</div>
<svg class="r" style="left:560px;top:0px" width="150" height="50" viewBox="560 0 150 50">
<g stroke="#fff" stroke-width="0.9" stroke-linejoin="round">
<path d="M565.2,11 L568,7.5 L574.4,4.8 L604.8,3.6 L617.6,12.8 L628,16 L630,20 L630,33.6 L620,37.5 L605,41.6 L598,41 L592,35 L590.4,30.4 L572,26.4 L566,21 Z" fill="#a2b2ce"/>
<path d="M574,6.5 L588,5 L589,14.4 L571.5,13 Z" fill="#8e9fc1"/>
<path d="M591,4.5 L604,4 L615.5,12.5 L592,14.5 Z" fill="#b2c0d8"/>
<path d="M593.6,15.5 L617,13 L628,16.5 L628,22 L600,21.5 Z" fill="#8e9fc1"/>
<path d="M566,15 L590,16 L610,18 M576,16 L577,26 M590.5,15 L591,30 M600,24 L629,24.5 M599,28 L629,29.5 M602,33 L629,32" fill="none"/>
<circle cx="595.5" cy="34" r="6" fill="#a2b2ce"/><circle cx="595.5" cy="34" r="3" fill="none"/>
<circle cx="569.5" cy="23.5" r="3.8" fill="#a2b2ce"/>
<path d="M628,20 L638,14.5 L648,13.2 L661.8,5.3 L694.4,5.3 L701.5,10.6 L704.5,16.7 L704,23 L698,28 L690,30 L671.5,32.6 L660,35 L648,38.7 L635.4,37.9 L629.3,29 Z" fill="#d4694f"/>
<path d="M648,13.2 L662,6 M661.5,5.5 L668,15 L669,32 M648,14 L668,15.5 L702,13 M682,6 L684,15 L685,30 M636,24 L668,19 L703,18 M630,27 L660,24 M640,33 L668,30" fill="none" stroke="#f4c9b8"/>
<circle cx="654.8" cy="36.1" r="6.6" fill="#d4694f"/><circle cx="654.8" cy="36.1" r="3.3" fill="none"/>
<circle cx="695.7" cy="29" r="4.2" fill="#d4694f"/><circle cx="695.7" cy="29" r="2" fill="none"/>
</g></svg>
</body></html>
